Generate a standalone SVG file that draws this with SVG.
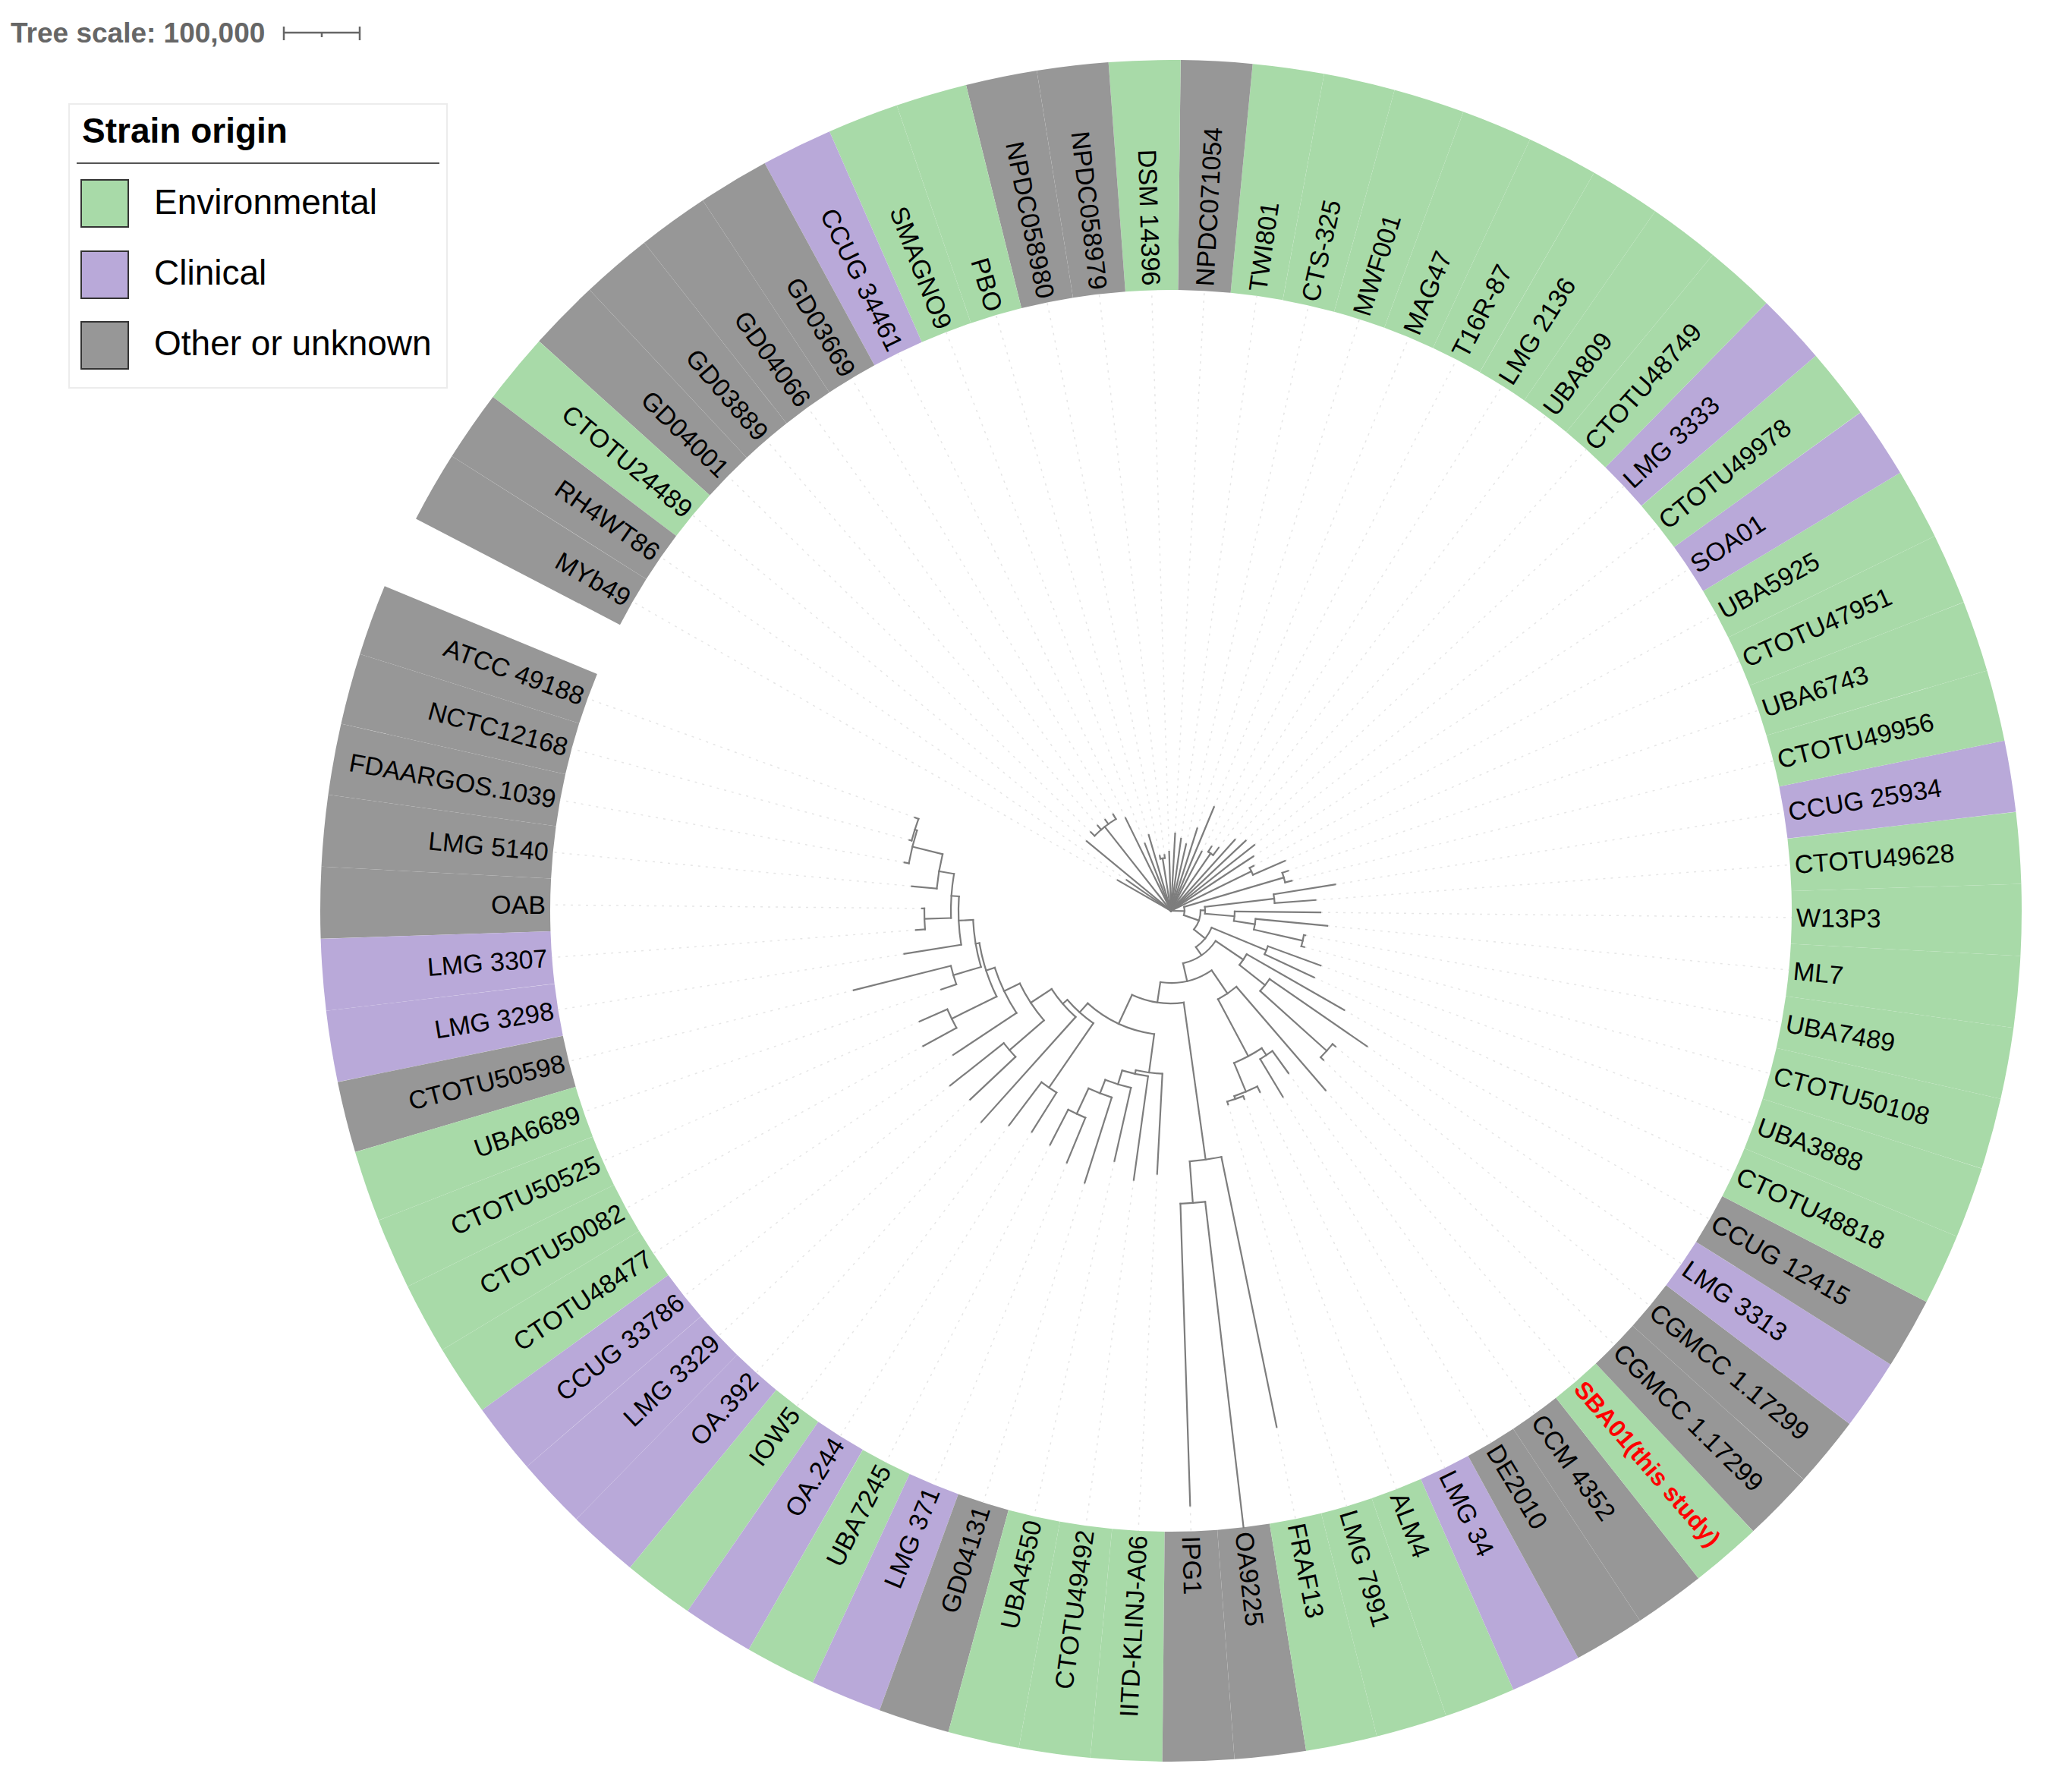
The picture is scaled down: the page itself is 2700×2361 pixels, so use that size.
<svg xmlns="http://www.w3.org/2000/svg" width="2700" height="2361" viewBox="0 0 2700 2361">
<style>
.lb{font-family:"Liberation Sans",Arial,sans-serif;font-size:34px;fill:#000}
.e{text-anchor:end}
.sb{font-weight:bold;fill:#ff0000;font-size:32px}
.w{fill:none;stroke-width:303;stroke-dasharray:4.863 400}
.env{stroke:#a8daa8}
.cli{stroke:#b9a9d9}
.oth{stroke:#979797}
.br{fill:none;stroke:#7d7d7d;stroke-width:2.2;stroke-linecap:square}
.gd{stroke:#e6e6e6;stroke-width:1.5;stroke-dasharray:3 7}
.lg{font-family:"Liberation Sans",Arial,sans-serif;font-size:46px;fill:#000}
.sq{stroke:#333;stroke-width:2}
</style>
<rect width="2700" height="2361" fill="#fff"/>
<g id="tree-scale">
<text x="14" y="56" style="font-family:'Liberation Sans',Arial,sans-serif;font-size:37px;font-weight:bold;fill:#666">Tree scale: 100,000</text>
<g stroke="#666" stroke-width="2.5" fill="none"><line x1="374" y1="43" x2="474" y2="43"/><line x1="374" y1="35" x2="374" y2="53"/><line x1="474" y1="35" x2="474" y2="53"/><line x1="424" y1="43" x2="424" y2="49"/></g>
</g>
<g id="legend">
<rect x="91" y="137" width="498" height="374" fill="#fff" stroke="#ececec" stroke-width="2"/>
<text x="108" y="188" class="lg" style="font-weight:bold">Strain origin</text>
<line x1="101" y1="215" x2="579" y2="215" stroke="#555" stroke-width="2"/>
<rect class="sq" x="107" y="237" width="62" height="62" fill="#a8daa8"/>
<text x="203" y="282" class="lg">Environmental</text>
<rect class="sq" x="107" y="331" width="62" height="62" fill="#b9a9d9"/>
<text x="203" y="375" class="lg">Clinical</text>
<rect class="sq" x="107" y="424" width="62" height="62" fill="#979797"/>
<text x="203" y="468" class="lg">Other or unknown</text>
</g>
<g transform="translate(1543 1200)">
<g id="nodes">
<g id="n01"><circle class="w oth" r="969.5" pathLength="360" transform="rotate(197.5685)"/><text class="lb e" dy="12" transform="rotate(200) translate(824 0) rotate(180)">ATCC 49188</text></g>
<g id="n02"><circle class="w oth" r="969.5" pathLength="360" transform="rotate(192.7055)"/><text class="lb e" dy="12" transform="rotate(195.137) translate(824 0) rotate(180)">NCTC12168</text></g>
<g id="n03"><circle class="w oth" r="969.5" pathLength="360" transform="rotate(187.8425)"/><text class="lb e" dy="12" transform="rotate(190.274) translate(824 0) rotate(180)">FDAARGOS.1039</text></g>
<g id="n04"><circle class="w oth" r="969.5" pathLength="360" transform="rotate(182.9795)"/><text class="lb e" dy="12" transform="rotate(185.411) translate(824 0) rotate(180)">LMG 5140</text></g>
<g id="n05"><circle class="w oth" r="969.5" pathLength="360" transform="rotate(178.1165)"/><text class="lb e" dy="12" transform="rotate(180.548) translate(824 0) rotate(180)">OAB</text></g>
<g id="n06"><circle class="w cli" r="969.5" pathLength="360" transform="rotate(173.2535)"/><text class="lb e" dy="12" transform="rotate(175.685) translate(824 0) rotate(180)">LMG 3307</text></g>
<g id="n07"><circle class="w cli" r="969.5" pathLength="360" transform="rotate(168.3905)"/><text class="lb e" dy="12" transform="rotate(170.822) translate(824 0) rotate(180)">LMG 3298</text></g>
<g id="n08"><circle class="w oth" r="969.5" pathLength="360" transform="rotate(163.5275)"/><text class="lb e" dy="12" transform="rotate(165.959) translate(824 0) rotate(180)">CTOTU50598</text></g>
<g id="n09"><circle class="w env" r="969.5" pathLength="360" transform="rotate(158.6645)"/><text class="lb e" dy="12" transform="rotate(161.096) translate(824 0) rotate(180)">UBA6689</text></g>
<g id="n10"><circle class="w env" r="969.5" pathLength="360" transform="rotate(153.8015)"/><text class="lb e" dy="12" transform="rotate(156.233) translate(824 0) rotate(180)">CTOTU50525</text></g>
<g id="n11"><circle class="w env" r="969.5" pathLength="360" transform="rotate(148.9385)"/><text class="lb e" dy="12" transform="rotate(151.37) translate(824 0) rotate(180)">CTOTU50082</text></g>
<g id="n12"><circle class="w env" r="969.5" pathLength="360" transform="rotate(144.0755)"/><text class="lb e" dy="12" transform="rotate(146.507) translate(824 0) rotate(180)">CTOTU48477</text></g>
<g id="n13"><circle class="w cli" r="969.5" pathLength="360" transform="rotate(139.2125)"/><text class="lb e" dy="12" transform="rotate(141.644) translate(824 0) rotate(180)">CCUG 33786</text></g>
<g id="n14"><circle class="w cli" r="969.5" pathLength="360" transform="rotate(134.3495)"/><text class="lb e" dy="12" transform="rotate(136.781) translate(824 0) rotate(180)">LMG 3329</text></g>
<g id="n15"><circle class="w cli" r="969.5" pathLength="360" transform="rotate(129.4865)"/><text class="lb e" dy="12" transform="rotate(131.918) translate(824 0) rotate(180)">OA.392</text></g>
<g id="n16"><circle class="w env" r="969.5" pathLength="360" transform="rotate(124.6235)"/><text class="lb e" dy="12" transform="rotate(127.055) translate(824 0) rotate(180)">IOW5</text></g>
<g id="n17"><circle class="w cli" r="969.5" pathLength="360" transform="rotate(119.7605)"/><text class="lb e" dy="12" transform="rotate(122.192) translate(824 0) rotate(180)">OA.244</text></g>
<g id="n18"><circle class="w env" r="969.5" pathLength="360" transform="rotate(114.8975)"/><text class="lb e" dy="12" transform="rotate(117.329) translate(824 0) rotate(180)">UBA7245</text></g>
<g id="n19"><circle class="w cli" r="969.5" pathLength="360" transform="rotate(110.0345)"/><text class="lb e" dy="12" transform="rotate(112.466) translate(824 0) rotate(180)">LMG 371</text></g>
<g id="n20"><circle class="w oth" r="969.5" pathLength="360" transform="rotate(105.1715)"/><text class="lb e" dy="12" transform="rotate(107.603) translate(824 0) rotate(180)">GD04131</text></g>
<g id="n21"><circle class="w env" r="969.5" pathLength="360" transform="rotate(100.3085)"/><text class="lb e" dy="12" transform="rotate(102.74) translate(824 0) rotate(180)">UBA4550</text></g>
<g id="n22"><circle class="w env" r="969.5" pathLength="360" transform="rotate(95.4455)"/><text class="lb e" dy="12" transform="rotate(97.877) translate(824 0) rotate(180)">CTOTU49492</text></g>
<g id="n23"><circle class="w env" r="969.5" pathLength="360" transform="rotate(90.5825)"/><text class="lb e" dy="12" transform="rotate(93.014) translate(824 0) rotate(180)">IITD-KLINJ-A06</text></g>
<g id="n24"><circle class="w oth" r="969.5" pathLength="360" transform="rotate(85.7195)"/><text class="lb" dy="12" transform="rotate(88.151) translate(824 0)">IPG1</text></g>
<g id="n25"><circle class="w oth" r="969.5" pathLength="360" transform="rotate(80.8565)"/><text class="lb" dy="12" transform="rotate(83.288) translate(824 0)">OA9225</text></g>
<g id="n26"><circle class="w env" r="969.5" pathLength="360" transform="rotate(75.9935)"/><text class="lb" dy="12" transform="rotate(78.425) translate(824 0)">FRAF13</text></g>
<g id="n27"><circle class="w env" r="969.5" pathLength="360" transform="rotate(71.1305)"/><text class="lb" dy="12" transform="rotate(73.562) translate(824 0)">LMG 7991</text></g>
<g id="n28"><circle class="w env" r="969.5" pathLength="360" transform="rotate(66.2675)"/><text class="lb" dy="12" transform="rotate(68.699) translate(824 0)">ALM4</text></g>
<g id="n29"><circle class="w cli" r="969.5" pathLength="360" transform="rotate(61.4045)"/><text class="lb" dy="12" transform="rotate(63.836) translate(824 0)">LMG 34</text></g>
<g id="n30"><circle class="w oth" r="969.5" pathLength="360" transform="rotate(56.5415)"/><text class="lb" dy="12" transform="rotate(58.973) translate(824 0)">DE2010</text></g>
<g id="n31"><circle class="w oth" r="969.5" pathLength="360" transform="rotate(51.6785)"/><text class="lb" dy="12" transform="rotate(54.11) translate(824 0)">CCM 4352</text></g>
<g id="n32"><circle class="w env" r="969.5" pathLength="360" transform="rotate(46.8155)"/><text class="lb sb" dy="11" transform="rotate(49.247) translate(824 0)">SBA01(this study)</text></g>
<g id="n33"><circle class="w oth" r="969.5" pathLength="360" transform="rotate(41.9525)"/><text class="lb" dy="12" transform="rotate(44.384) translate(824 0)">CGMCC 1.17299</text></g>
<g id="n34"><circle class="w oth" r="969.5" pathLength="360" transform="rotate(37.0895)"/><text class="lb" dy="12" transform="rotate(39.521) translate(824 0)">CGMCC 1.17299</text></g>
<g id="n35"><circle class="w cli" r="969.5" pathLength="360" transform="rotate(32.2265)"/><text class="lb" dy="12" transform="rotate(34.658) translate(824 0)">LMG 3313</text></g>
<g id="n36"><circle class="w oth" r="969.5" pathLength="360" transform="rotate(27.3635)"/><text class="lb" dy="12" transform="rotate(29.795) translate(824 0)">CCUG 12415</text></g>
<g id="n37"><circle class="w env" r="969.5" pathLength="360" transform="rotate(22.5005)"/><text class="lb" dy="12" transform="rotate(24.932) translate(824 0)">CTOTU48818</text></g>
<g id="n38"><circle class="w env" r="969.5" pathLength="360" transform="rotate(17.6375)"/><text class="lb" dy="12" transform="rotate(20.069) translate(824 0)">UBA3888</text></g>
<g id="n39"><circle class="w env" r="969.5" pathLength="360" transform="rotate(12.7745)"/><text class="lb" dy="12" transform="rotate(15.206) translate(824 0)">CTOTU50108</text></g>
<g id="n40"><circle class="w env" r="969.5" pathLength="360" transform="rotate(7.9115)"/><text class="lb" dy="12" transform="rotate(10.343) translate(824 0)">UBA7489</text></g>
<g id="n41"><circle class="w env" r="969.5" pathLength="360" transform="rotate(3.0485)"/><text class="lb" dy="12" transform="rotate(5.48) translate(824 0)">ML7</text></g>
<g id="n42"><circle class="w env" r="969.5" pathLength="360" transform="rotate(-1.8145)"/><text class="lb" dy="12" transform="rotate(0.617) translate(824 0)">W13P3</text></g>
<g id="n43"><circle class="w env" r="969.5" pathLength="360" transform="rotate(-6.6775)"/><text class="lb" dy="12" transform="rotate(-4.246) translate(824 0)">CTOTU49628</text></g>
<g id="n44"><circle class="w cli" r="969.5" pathLength="360" transform="rotate(-11.5405)"/><text class="lb" dy="12" transform="rotate(-9.109) translate(824 0)">CCUG 25934</text></g>
<g id="n45"><circle class="w env" r="969.5" pathLength="360" transform="rotate(-16.4035)"/><text class="lb" dy="12" transform="rotate(-13.972) translate(824 0)">CTOTU49956</text></g>
<g id="n46"><circle class="w env" r="969.5" pathLength="360" transform="rotate(-21.2665)"/><text class="lb" dy="12" transform="rotate(-18.835) translate(824 0)">UBA6743</text></g>
<g id="n47"><circle class="w env" r="969.5" pathLength="360" transform="rotate(-26.1295)"/><text class="lb" dy="12" transform="rotate(-23.698) translate(824 0)">CTOTU47951</text></g>
<g id="n48"><circle class="w env" r="969.5" pathLength="360" transform="rotate(-30.9925)"/><text class="lb" dy="12" transform="rotate(-28.561) translate(824 0)">UBA5925</text></g>
<g id="n49"><circle class="w cli" r="969.5" pathLength="360" transform="rotate(-35.8555)"/><text class="lb" dy="12" transform="rotate(-33.424) translate(824 0)">SOA01</text></g>
<g id="n50"><circle class="w env" r="969.5" pathLength="360" transform="rotate(-40.7185)"/><text class="lb" dy="12" transform="rotate(-38.287) translate(824 0)">CTOTU49978</text></g>
<g id="n51"><circle class="w cli" r="969.5" pathLength="360" transform="rotate(-45.5815)"/><text class="lb" dy="12" transform="rotate(-43.15) translate(824 0)">LMG 3333</text></g>
<g id="n52"><circle class="w env" r="969.5" pathLength="360" transform="rotate(-50.4445)"/><text class="lb" dy="12" transform="rotate(-48.013) translate(824 0)">CTOTU48749</text></g>
<g id="n53"><circle class="w env" r="969.5" pathLength="360" transform="rotate(-55.3075)"/><text class="lb" dy="12" transform="rotate(-52.876) translate(824 0)">UBA809</text></g>
<g id="n54"><circle class="w env" r="969.5" pathLength="360" transform="rotate(-60.1705)"/><text class="lb" dy="12" transform="rotate(-57.739) translate(824 0)">LMG 2136</text></g>
<g id="n55"><circle class="w env" r="969.5" pathLength="360" transform="rotate(-65.0335)"/><text class="lb" dy="12" transform="rotate(-62.602) translate(824 0)">T16R-87</text></g>
<g id="n56"><circle class="w env" r="969.5" pathLength="360" transform="rotate(-69.8965)"/><text class="lb" dy="12" transform="rotate(-67.465) translate(824 0)">MAG47</text></g>
<g id="n57"><circle class="w env" r="969.5" pathLength="360" transform="rotate(-74.7595)"/><text class="lb" dy="12" transform="rotate(-72.328) translate(824 0)">MWF001</text></g>
<g id="n58"><circle class="w env" r="969.5" pathLength="360" transform="rotate(-79.6225)"/><text class="lb" dy="12" transform="rotate(-77.191) translate(824 0)">CTS-325</text></g>
<g id="n59"><circle class="w env" r="969.5" pathLength="360" transform="rotate(-84.4855)"/><text class="lb" dy="12" transform="rotate(-82.054) translate(824 0)">TWI801</text></g>
<g id="n60"><circle class="w oth" r="969.5" pathLength="360" transform="rotate(-89.3485)"/><text class="lb" dy="12" transform="rotate(-86.917) translate(824 0)">NPDC071054</text></g>
<g id="n61"><circle class="w env" r="969.5" pathLength="360" transform="rotate(-94.2115)"/><text class="lb e" dy="12" transform="rotate(-91.78) translate(824 0) rotate(180)">DSM 14396</text></g>
<g id="n62"><circle class="w oth" r="969.5" pathLength="360" transform="rotate(-99.0745)"/><text class="lb e" dy="12" transform="rotate(-96.643) translate(824 0) rotate(180)">NPDC058979</text></g>
<g id="n63"><circle class="w oth" r="969.5" pathLength="360" transform="rotate(-103.9375)"/><text class="lb e" dy="12" transform="rotate(-101.506) translate(824 0) rotate(180)">NPDC058980</text></g>
<g id="n64"><circle class="w env" r="969.5" pathLength="360" transform="rotate(-108.8005)"/><text class="lb e" dy="12" transform="rotate(-106.369) translate(824 0) rotate(180)">PBO</text></g>
<g id="n65"><circle class="w env" r="969.5" pathLength="360" transform="rotate(-113.6635)"/><text class="lb e" dy="12" transform="rotate(-111.232) translate(824 0) rotate(180)">SMAGNO9</text></g>
<g id="n66"><circle class="w cli" r="969.5" pathLength="360" transform="rotate(-118.5265)"/><text class="lb e" dy="12" transform="rotate(-116.095) translate(824 0) rotate(180)">CCUG 34461</text></g>
<g id="n67"><circle class="w oth" r="969.5" pathLength="360" transform="rotate(-123.3895)"/><text class="lb e" dy="12" transform="rotate(-120.958) translate(824 0) rotate(180)">GD03669</text></g>
<g id="n68"><circle class="w oth" r="969.5" pathLength="360" transform="rotate(-128.2525)"/><text class="lb e" dy="12" transform="rotate(-125.821) translate(824 0) rotate(180)">GD04066</text></g>
<g id="n69"><circle class="w oth" r="969.5" pathLength="360" transform="rotate(-133.1155)"/><text class="lb e" dy="12" transform="rotate(-130.684) translate(824 0) rotate(180)">GD03889</text></g>
<g id="n70"><circle class="w oth" r="969.5" pathLength="360" transform="rotate(-137.9785)"/><text class="lb e" dy="12" transform="rotate(-135.547) translate(824 0) rotate(180)">GD04001</text></g>
<g id="n71"><circle class="w env" r="969.5" pathLength="360" transform="rotate(-142.8415)"/><text class="lb e" dy="12" transform="rotate(-140.41) translate(824 0) rotate(180)">CTOTU24489</text></g>
<g id="n72"><circle class="w oth" r="969.5" pathLength="360" transform="rotate(-147.7045)"/><text class="lb e" dy="12" transform="rotate(-145.273) translate(824 0) rotate(180)">RH4WT86</text></g>
<g id="n73"><circle class="w oth" r="969.5" pathLength="360" transform="rotate(-152.5675)"/><text class="lb e" dy="12" transform="rotate(-150.136) translate(824 0) rotate(180)">MYb49</text></g>
</g>
<g id="guides">
<line class="gd" x1="359" x2="818" transform="rotate(200)"/>
<line class="gd" x1="357" x2="818" transform="rotate(195.137)"/>
<line class="gd" x1="357" x2="818" transform="rotate(190.274)"/>
<line class="gd" x1="343" x2="818" transform="rotate(185.411)"/>
<line class="gd" x1="328" x2="818" transform="rotate(180.548)"/>
<line class="gd" x1="337" x2="818" transform="rotate(175.685)"/>
<line class="gd" x1="356" x2="818" transform="rotate(170.822)"/>
<line class="gd" x1="431" x2="818" transform="rotate(165.959)"/>
<line class="gd" x1="320" x2="818" transform="rotate(161.096)"/>
<line class="gd" x1="362" x2="818" transform="rotate(156.233)"/>
<line class="gd" x1="372" x2="818" transform="rotate(151.37)"/>
<line class="gd" x1="344" x2="818" transform="rotate(146.507)"/>
<line class="gd" x1="371" x2="818" transform="rotate(141.644)"/>
<line class="gd" x1="363" x2="818" transform="rotate(136.781)"/>
<line class="gd" x1="374" x2="818" transform="rotate(131.918)"/>
<line class="gd" x1="354" x2="818" transform="rotate(127.055)"/>
<line class="gd" x1="344" x2="818" transform="rotate(122.192)"/>
<line class="gd" x1="347" x2="818" transform="rotate(117.329)"/>
<line class="gd" x1="359" x2="818" transform="rotate(112.466)"/>
<line class="gd" x1="376" x2="818" transform="rotate(107.603)"/>
<line class="gd" x1="338" x2="818" transform="rotate(102.74)"/>
<line class="gd" x1="358" x2="818" transform="rotate(97.877)"/>
<line class="gd" x1="347" x2="818" transform="rotate(93.014)"/>
<line class="gd" x1="784" x2="818" transform="rotate(88.151)"/>
<line class="gd" x1="694" x2="818" transform="rotate(78.425)"/>
<line class="gd" x1="266" x2="818" transform="rotate(73.562)"/>
<line class="gd" x1="266" x2="818" transform="rotate(68.699)"/>
<line class="gd" x1="266" x2="818" transform="rotate(63.836)"/>
<line class="gd" x1="286" x2="818" transform="rotate(58.973)"/>
<line class="gd" x1="264" x2="818" transform="rotate(54.11)"/>
<line class="gd" x1="312" x2="818" transform="rotate(49.247)"/>
<line class="gd" x1="281" x2="818" transform="rotate(44.384)"/>
<line class="gd" x1="281" x2="818" transform="rotate(39.521)"/>
<line class="gd" x1="314" x2="818" transform="rotate(34.658)"/>
<line class="gd" x1="263" x2="818" transform="rotate(29.795)"/>
<line class="gd" x1="208" x2="818" transform="rotate(24.932)"/>
<line class="gd" x1="210" x2="818" transform="rotate(20.069)"/>
<line class="gd" x1="182" x2="818" transform="rotate(15.206)"/>
<line class="gd" x1="180" x2="818" transform="rotate(10.343)"/>
<line class="gd" x1="207" x2="818" transform="rotate(5.48)"/>
<line class="gd" x1="197" x2="818" transform="rotate(0.617)"/>
<line class="gd" x1="191" x2="818" transform="rotate(-4.246)"/>
<line class="gd" x1="219" x2="818" transform="rotate(-9.109)"/>
<line class="gd" x1="164" x2="818" transform="rotate(-13.972)"/>
<line class="gd" x1="163" x2="818" transform="rotate(-18.835)"/>
<line class="gd" x1="164" x2="818" transform="rotate(-23.698)"/>
<line class="gd" x1="124" x2="818" transform="rotate(-28.561)"/>
<line class="gd" x1="130" x2="818" transform="rotate(-33.424)"/>
<line class="gd" x1="140" x2="818" transform="rotate(-38.287)"/>
<line class="gd" x1="135" x2="818" transform="rotate(-43.15)"/>
<line class="gd" x1="126" x2="818" transform="rotate(-48.013)"/>
<line class="gd" x1="104" x2="818" transform="rotate(-52.876)"/>
<line class="gd" x1="100" x2="818" transform="rotate(-57.739)"/>
<line class="gd" x1="88" x2="818" transform="rotate(-62.602)"/>
<line class="gd" x1="148" x2="818" transform="rotate(-67.465)"/>
<line class="gd" x1="114" x2="818" transform="rotate(-72.328)"/>
<line class="gd" x1="90" x2="818" transform="rotate(-77.191)"/>
<line class="gd" x1="96" x2="818" transform="rotate(-82.054)"/>
<line class="gd" x1="102" x2="818" transform="rotate(-86.917)"/>
<line class="gd" x1="78" x2="818" transform="rotate(-91.78)"/>
<line class="gd" x1="74" x2="818" transform="rotate(-96.643)"/>
<line class="gd" x1="74" x2="818" transform="rotate(-101.506)"/>
<line class="gd" x1="104" x2="818" transform="rotate(-106.369)"/>
<line class="gd" x1="95" x2="818" transform="rotate(-111.232)"/>
<line class="gd" x1="136" x2="818" transform="rotate(-116.095)"/>
<line class="gd" x1="148" x2="818" transform="rotate(-120.958)"/>
<line class="gd" x1="148" x2="818" transform="rotate(-125.821)"/>
<line class="gd" x1="148" x2="818" transform="rotate(-130.684)"/>
<line class="gd" x1="148" x2="818" transform="rotate(-135.547)"/>
<line class="gd" x1="144" x2="818" transform="rotate(-140.41)"/>
<line class="gd" x1="71" x2="818" transform="rotate(-145.273)"/>
<line class="gd" x1="81" x2="818" transform="rotate(-150.136)"/>
</g>
<g id="connectors">
<line class="br" x1="354" x2="359" transform="rotate(200)"/>
<line class="br" x1="354" x2="357" transform="rotate(195.137)"/>
<line class="br" x1="351" x2="357" transform="rotate(190.274)"/>
<line class="br" x1="310" x2="343" transform="rotate(185.411)"/>
<line class="br" x1="325" x2="328" transform="rotate(180.548)"/>
<line class="br" x1="325" x2="337" transform="rotate(175.685)"/>
<line class="br" x1="280" x2="356" transform="rotate(170.822)"/>
<line class="br" x1="299" x2="431" transform="rotate(165.959)"/>
<line class="br" x1="299" x2="320" transform="rotate(161.096)"/>
<line class="br" x1="322" x2="362" transform="rotate(156.233)"/>
<line class="br" x1="322" x2="372" transform="rotate(151.37)"/>
<line class="br" x1="244" x2="344" transform="rotate(146.507)"/>
<line class="br" x1="281" x2="371" transform="rotate(141.644)"/>
<line class="br" x1="281" x2="363" transform="rotate(136.781)"/>
<line class="br" x1="188" x2="374" transform="rotate(131.918)"/>
<line class="br" x1="283" x2="354" transform="rotate(127.055)"/>
<line class="br" x1="283" x2="344" transform="rotate(122.192)"/>
<line class="br" x1="295" x2="347" transform="rotate(117.329)"/>
<line class="br" x1="295" x2="359" transform="rotate(112.466)"/>
<line class="br" x1="258" x2="376" transform="rotate(107.603)"/>
<line class="br" x1="239" x2="338" transform="rotate(102.74)"/>
<line class="br" x1="220" x2="358" transform="rotate(97.877)"/>
<line class="br" x1="215" x2="347" transform="rotate(93.014)"/>
<line class="br" x1="386" x2="784" transform="rotate(88.151)"/>
<line class="br" x1="386" x2="818" transform="rotate(83.288)"/>
<line class="br" x1="331" x2="694" transform="rotate(78.425)"/>
<line class="br" x1="262" x2="266" transform="rotate(73.562)"/>
<line class="br" x1="262" x2="266" transform="rotate(68.699)"/>
<line class="br" x1="258" x2="266" transform="rotate(63.836)"/>
<line class="br" x1="228" x2="286" transform="rotate(58.973)"/>
<line class="br" x1="228" x2="264" transform="rotate(54.11)"/>
<line class="br" x1="132" x2="312" transform="rotate(49.247)"/>
<line class="br" x1="276" x2="281" transform="rotate(44.384)"/>
<line class="br" x1="276" x2="281" transform="rotate(39.521)"/>
<line class="br" x1="158" x2="314" transform="rotate(34.658)"/>
<line class="br" x1="115" x2="263" transform="rotate(29.795)"/>
<line class="br" x1="136" x2="208" transform="rotate(24.932)"/>
<line class="br" x1="136" x2="210" transform="rotate(20.069)"/>
<line class="br" x1="178" x2="182" transform="rotate(15.206)"/>
<line class="br" x1="178" x2="180" transform="rotate(10.343)"/>
<line class="br" x1="112" x2="207" transform="rotate(5.48)"/>
<line class="br" x1="84" x2="197" transform="rotate(0.617)"/>
<line class="br" x1="137" x2="191" transform="rotate(-4.246)"/>
<line class="br" x1="137" x2="219" transform="rotate(-9.109)"/>
<line class="br" x1="155" x2="164" transform="rotate(-13.972)"/>
<line class="br" x1="155" x2="163" transform="rotate(-18.835)"/>
<line class="br" x1="118" x2="164" transform="rotate(-23.698)"/>
<line class="br" x1="118" x2="124" transform="rotate(-28.561)"/>
<line class="br" x1="0" x2="130" transform="rotate(-33.424)"/>
<line class="br" x1="0" x2="140" transform="rotate(-38.287)"/>
<line class="br" x1="0" x2="135" transform="rotate(-43.15)"/>
<line class="br" x1="0" x2="126" transform="rotate(-48.013)"/>
<line class="br" x1="92" x2="104" transform="rotate(-52.876)"/>
<line class="br" x1="92" x2="100" transform="rotate(-57.739)"/>
<line class="br" x1="0" x2="88" transform="rotate(-62.602)"/>
<line class="br" x1="0" x2="148" transform="rotate(-67.465)"/>
<line class="br" x1="0" x2="114" transform="rotate(-72.328)"/>
<line class="br" x1="0" x2="90" transform="rotate(-77.191)"/>
<line class="br" x1="0" x2="96" transform="rotate(-82.054)"/>
<line class="br" x1="0" x2="102" transform="rotate(-86.917)"/>
<line class="br" x1="0" x2="78" transform="rotate(-91.78)"/>
<line class="br" x1="70" x2="74" transform="rotate(-96.643)"/>
<line class="br" x1="70" x2="74" transform="rotate(-101.506)"/>
<line class="br" x1="0" x2="104" transform="rotate(-106.369)"/>
<line class="br" x1="0" x2="95" transform="rotate(-111.232)"/>
<line class="br" x1="0" x2="136" transform="rotate(-116.095)"/>
<line class="br" x1="141" x2="148" transform="rotate(-120.958)"/>
<line class="br" x1="141" x2="148" transform="rotate(-125.821)"/>
<line class="br" x1="141" x2="148" transform="rotate(-130.684)"/>
<line class="br" x1="141" x2="148" transform="rotate(-135.547)"/>
<line class="br" x1="0" x2="144" transform="rotate(-140.41)"/>
<line class="br" x1="0" x2="71" transform="rotate(-145.273)"/>
<line class="br" x1="0" x2="81" transform="rotate(-150.136)"/>
<line class="br" x1="351" x2="354" transform="rotate(197.57)"/>
<line class="br" x1="310" x2="351" transform="rotate(193.92)"/>
<line class="br" x1="290" x2="310" transform="rotate(189.67)"/>
<line class="br" x1="290" x2="325" transform="rotate(178.12)"/>
<line class="br" x1="280" x2="290" transform="rotate(183.89)"/>
<line class="br" x1="261" x2="280" transform="rotate(177.36)"/>
<line class="br" x1="261" x2="299" transform="rotate(163.53)"/>
<line class="br" x1="256" x2="261" transform="rotate(170.44)"/>
<line class="br" x1="256" x2="322" transform="rotate(153.80)"/>
<line class="br" x1="244" x2="256" transform="rotate(162.12)"/>
<line class="br" x1="221" x2="244" transform="rotate(154.31)"/>
<line class="br" x1="221" x2="281" transform="rotate(139.21)"/>
<line class="br" x1="188" x2="221" transform="rotate(146.76)"/>
<line class="br" x1="180" x2="188" transform="rotate(139.34)"/>
<line class="br" x1="180" x2="283" transform="rotate(124.62)"/>
<line class="br" x1="164" x2="180" transform="rotate(131.98)"/>
<line class="br" x1="258" x2="295" transform="rotate(114.90)"/>
<line class="br" x1="239" x2="258" transform="rotate(111.25)"/>
<line class="br" x1="220" x2="239" transform="rotate(107.0)"/>
<line class="br" x1="215" x2="220" transform="rotate(102.44)"/>
<line class="br" x1="164" x2="215" transform="rotate(97.73)"/>
<line class="br" x1="122" x2="164" transform="rotate(114.86)"/>
<line class="br" x1="331" x2="386" transform="rotate(85.72)"/>
<line class="br" x1="122" x2="331" transform="rotate(82.07)"/>
<line class="br" x1="95" x2="122" transform="rotate(98.47)"/>
<line class="br" x1="258" x2="262" transform="rotate(71.13)"/>
<line class="br" x1="217" x2="258" transform="rotate(67.48)"/>
<line class="br" x1="217" x2="228" transform="rotate(56.54)"/>
<line class="br" x1="132" x2="217" transform="rotate(62.01)"/>
<line class="br" x1="95" x2="132" transform="rotate(55.63)"/>
<line class="br" x1="71" x2="95" transform="rotate(77.05)"/>
<line class="br" x1="158" x2="276" transform="rotate(41.95)"/>
<line class="br" x1="115" x2="158" transform="rotate(38.30)"/>
<line class="br" x1="71" x2="115" transform="rotate(34.05)"/>
<line class="br" x1="58" x2="71" transform="rotate(55.55)"/>
<line class="br" x1="58" x2="136" transform="rotate(22.50)"/>
<line class="br" x1="39" x2="58" transform="rotate(39.03)"/>
<line class="br" x1="112" x2="178" transform="rotate(12.77)"/>
<line class="br" x1="84" x2="112" transform="rotate(9.13)"/>
<line class="br" x1="45" x2="84" transform="rotate(4.87)"/>
<line class="br" x1="45" x2="137" transform="rotate(-6.68)"/>
<line class="br" x1="39" x2="45" transform="rotate(-0.90)"/>
<line class="br" x1="18" x2="39" transform="rotate(19.07)"/>
<line class="br" x1="18" x2="155" transform="rotate(-16.40)"/>
<line class="br" x1="0" x2="18" transform="rotate(1.33)"/>
<line class="br" x1="0" x2="118" transform="rotate(-26.13)"/>
<line class="br" x1="0" x2="92" transform="rotate(-55.31)"/>
<line class="br" x1="0" x2="70" transform="rotate(-99.07)"/>
<line class="br" x1="0" x2="141" transform="rotate(-128.25)"/>
<circle class="br" r="354" pathLength="360" stroke-dasharray="4.863 400" transform="rotate(195.137)"/>
<circle class="br" r="351" pathLength="360" stroke-dasharray="7.296 400" transform="rotate(190.274)"/>
<circle class="br" r="310" pathLength="360" stroke-dasharray="8.509 400" transform="rotate(185.411)"/>
<circle class="br" r="325" pathLength="360" stroke-dasharray="4.863 400" transform="rotate(175.685)"/>
<circle class="br" r="290" pathLength="360" stroke-dasharray="11.55 400" transform="rotate(178.12)"/>
<circle class="br" r="280" pathLength="360" stroke-dasharray="13.068 400" transform="rotate(170.822)"/>
<circle class="br" r="299" pathLength="360" stroke-dasharray="4.863 400" transform="rotate(161.096)"/>
<circle class="br" r="261" pathLength="360" stroke-dasharray="13.83 400" transform="rotate(163.53)"/>
<circle class="br" r="322" pathLength="360" stroke-dasharray="4.863 400" transform="rotate(151.37)"/>
<circle class="br" r="256" pathLength="360" stroke-dasharray="16.64 400" transform="rotate(153.80)"/>
<circle class="br" r="244" pathLength="360" stroke-dasharray="15.613 400" transform="rotate(146.507)"/>
<circle class="br" r="281" pathLength="360" stroke-dasharray="4.863 400" transform="rotate(136.781)"/>
<circle class="br" r="221" pathLength="360" stroke-dasharray="15.10 400" transform="rotate(139.21)"/>
<circle class="br" r="188" pathLength="360" stroke-dasharray="14.842 400" transform="rotate(131.918)"/>
<circle class="br" r="283" pathLength="360" stroke-dasharray="4.863 400" transform="rotate(122.192)"/>
<circle class="br" r="180" pathLength="360" stroke-dasharray="14.72 400" transform="rotate(124.62)"/>
<circle class="br" r="295" pathLength="360" stroke-dasharray="4.863 400" transform="rotate(112.466)"/>
<circle class="br" r="258" pathLength="360" stroke-dasharray="7.297 400" transform="rotate(107.603)"/>
<circle class="br" r="239" pathLength="360" stroke-dasharray="8.51 400" transform="rotate(102.74)"/>
<circle class="br" r="220" pathLength="360" stroke-dasharray="9.123 400" transform="rotate(97.877)"/>
<circle class="br" r="215" pathLength="360" stroke-dasharray="9.426 400" transform="rotate(93.014)"/>
<circle class="br" r="164" pathLength="360" stroke-dasharray="34.25 400" transform="rotate(97.73)"/>
<circle class="br" r="386" pathLength="360" stroke-dasharray="4.863 400" transform="rotate(83.288)"/>
<circle class="br" r="331" pathLength="360" stroke-dasharray="7.295 400" transform="rotate(78.425)"/>
<circle class="br" r="122" pathLength="360" stroke-dasharray="32.79 400" transform="rotate(82.07)"/>
<circle class="br" r="262" pathLength="360" stroke-dasharray="4.863 400" transform="rotate(68.699)"/>
<circle class="br" r="258" pathLength="360" stroke-dasharray="7.294 400" transform="rotate(63.836)"/>
<circle class="br" r="228" pathLength="360" stroke-dasharray="4.863 400" transform="rotate(54.11)"/>
<circle class="br" r="217" pathLength="360" stroke-dasharray="10.94 400" transform="rotate(56.54)"/>
<circle class="br" r="132" pathLength="360" stroke-dasharray="12.763 400" transform="rotate(49.247)"/>
<circle class="br" r="95" pathLength="360" stroke-dasharray="42.84 400" transform="rotate(55.63)"/>
<circle class="br" r="276" pathLength="360" stroke-dasharray="4.863 400" transform="rotate(39.521)"/>
<circle class="br" r="158" pathLength="360" stroke-dasharray="7.292 400" transform="rotate(34.658)"/>
<circle class="br" r="115" pathLength="360" stroke-dasharray="8.505 400" transform="rotate(29.795)"/>
<circle class="br" r="71" pathLength="360" stroke-dasharray="43.0 400" transform="rotate(34.05)"/>
<circle class="br" r="136" pathLength="360" stroke-dasharray="4.863 400" transform="rotate(20.069)"/>
<circle class="br" r="58" pathLength="360" stroke-dasharray="33.05 400" transform="rotate(22.50)"/>
<circle class="br" r="178" pathLength="360" stroke-dasharray="4.863 400" transform="rotate(10.343)"/>
<circle class="br" r="112" pathLength="360" stroke-dasharray="7.29 400" transform="rotate(5.48)"/>
<circle class="br" r="84" pathLength="360" stroke-dasharray="8.513 400" transform="rotate(0.617)"/>
<circle class="br" r="137" pathLength="360" stroke-dasharray="4.863 400" transform="rotate(-9.109)"/>
<circle class="br" r="45" pathLength="360" stroke-dasharray="11.55 400" transform="rotate(-6.68)"/>
<circle class="br" r="39" pathLength="360" stroke-dasharray="39.93 400" transform="rotate(-0.90)"/>
<circle class="br" r="155" pathLength="360" stroke-dasharray="4.863 400" transform="rotate(-18.835)"/>
<circle class="br" r="18" pathLength="360" stroke-dasharray="35.47 400" transform="rotate(-16.40)"/>
<circle class="br" r="118" pathLength="360" stroke-dasharray="4.863 400" transform="rotate(-28.561)"/>
<circle class="br" r="92" pathLength="360" stroke-dasharray="4.863 400" transform="rotate(-57.739)"/>
<circle class="br" r="70" pathLength="360" stroke-dasharray="4.863 400" transform="rotate(-101.506)"/>
<circle class="br" r="141" pathLength="360" stroke-dasharray="14.589 400" transform="rotate(-135.547)"/>
</g>
</g>
</svg>
